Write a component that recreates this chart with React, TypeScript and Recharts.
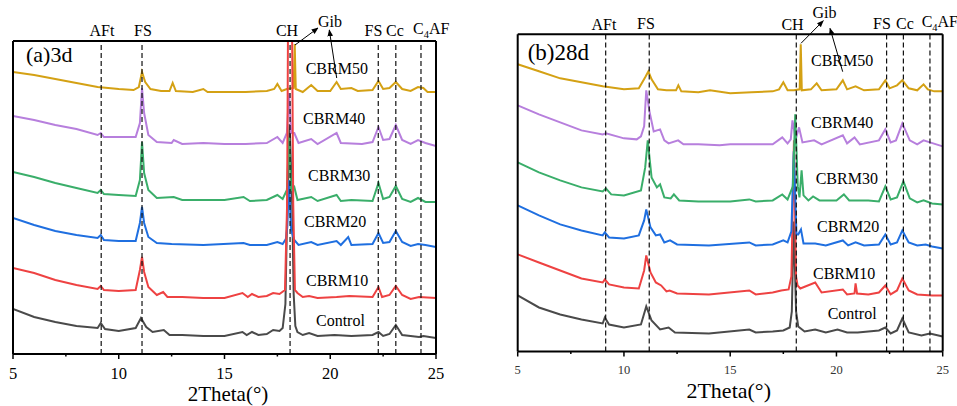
import React from 'react';
import { LineChart, Line, XAxis, YAxis, ReferenceLine } from 'recharts';

type Pt = [number, number];

// ---------- data: 2Theta (deg) vs offset intensity (a.u.) ----------
const SERIES_NAMES = ['Control', 'CBRM10', 'CBRM20', 'CBRM30', 'CBRM40', 'CBRM50'];
const X_TICKS = [5, 7.5, 10, 12.5, 15, 17.5, 20, 22.5, 25];
const X_MAJOR = [5, 10, 15, 20, 25];

const peaks3d: [string, number][] = [
  ['AFt', 9.17], ['FS', 11.1], ['CH', 18.1], ['FS', 22.27], ['Cc', 23.1], ['C4AF', 24.29],
];
const peaks28d: [string, number][] = [
  ['AFt', 9.14], ['FS', 11.19], ['CH', 18.11], ['FS', 22.36], ['Cc', 23.15], ['C4AF', 24.4],
];

const d3Control: Pt[] = [[5,45],[6,37],[7,32],[8,28],[9,26],[9.15,31],[9.35,25],[10,23],[10.8,26],[11.05,36],[11.3,27],[11.6,22],[12.13,24],[12.4,19],[13,19],[14,18],[15,18],[15.85,22],[16.05,19],[16.3,22],[16.6,19],[17,20],[17.3,24],[17.6,23],[17.75,26],[17.88,50],[17.97,150],[18.08,230],[18.2,150],[18.27,60],[18.35,28],[18.45,22],[18.7,19],[19,21],[19.4,18],[20.2,19],[21,18],[22,19],[22.28,22],[22.5,18],[22.8,20],[23.1,29],[23.4,19],[24.2,17],[24.4,18],[25,16]];
const d3CBRM10: Pt[] = [[5,86],[6,81],[7,74],[8,69],[9,65],[9.15,68],[9.3,64],[10,63],[10.8,64],[11,84],[11.1,97],[11.2,82],[11.4,67],[11.8,59],[12.1,62],[12.3,57],[13,57],[14,56],[15,56],[15.85,61],[16.1,57],[16.3,60],[16.6,57],[17,58],[17.3,61],[17.6,60],[17.86,64],[17.96,150],[18.02,400],[18.17,400],[18.25,150],[18.33,64],[18.45,61],[18.7,57],[19,58],[19.4,56],[20.3,57],[20.9,58],[22,57],[22.28,67],[22.45,57],[22.8,59],[23.1,68],[23.4,59],[23.8,55],[24.2,57],[25,56]];
const d3CBRM20: Pt[] = [[5,136],[6,129],[7,123],[8,119],[9,116],[9.15,119],[9.3,114],[10,113],[10.8,113],[11,131],[11.1,147],[11.2,131],[11.4,117],[11.8,111],[12.5,110],[14,109],[15.9,111],[16.2,109],[17,109],[17.5,112],[17.75,110],[17.9,115],[17.97,127],[18.05,174],[18.15,124],[18.3,114],[18.5,109],[19.1,112],[19.4,109],[20.3,113],[20.5,109],[20.85,117],[21,109],[22,110],[22.28,121],[22.5,111],[22.8,112],[23.1,123],[23.4,112],[23.8,108],[24.15,110],[24.5,109],[25,107]];
const d3CBRM30: Pt[] = [[5,182],[6,177],[7,171],[8,166],[9,161],[9.15,164],[9.3,160],[10,159],[10.8,158],[11,174],[11.1,212],[11.2,181],[11.4,164],[11.8,156],[12.6,157],[13,154],[14,154],[15,154],[15.9,157],[16.2,153],[17,154],[17.5,159],[17.75,155],[17.95,164],[18.05,217],[18.15,164],[18.3,167],[18.45,154],[19.1,157],[19.4,153],[20.3,159],[20.5,153],[21,154],[22,153],[22.28,171],[22.5,155],[22.8,157],[23.1,168],[23.4,155],[23.8,152],[24.15,156],[24.5,152],[25,152]];
const d3CBRM40: Pt[] = [[5,238],[6,234],[7,229],[8,225],[9,219],[9.15,221],[9.3,217],[10,217],[10.8,217],[11,231],[11.1,266],[11.2,241],[11.4,219],[11.8,212],[12.5,211],[12.6,214],[13,210],[14,211],[15,210],[16,210],[17,211],[17.5,217],[17.75,211],[17.95,221],[18.05,261],[18.15,221],[18.3,221],[18.5,211],[19.1,215],[19.4,210],[20.3,221],[20.5,211],[21.5,210],[22,212],[22.28,227],[22.5,214],[22.8,215],[23.1,229],[23.4,214],[23.8,210],[24.15,214],[24.5,211],[25,208]];
const d3CBRM50: Pt[] = [[5,282],[6,279],[7,275],[8,271],[9,267],[10,265],[10.7,264],[10.95,267],[11.1,282],[11.25,272],[11.5,265],[12,263],[12.4,263],[12.55,271],[12.7,263],[13.5,262],[14,265],[14.2,262],[15,262],[16,262],[17,263],[17.35,265],[17.5,270],[17.7,263],[17.95,265],[18.27,266],[18.32,310],[18.37,265],[18.7,262],[19.1,269],[19.4,263],[20,263],[20.3,272],[20.5,265],[21,266],[21.3,263],[22,264],[22.28,273],[22.5,265],[22.8,266],[23.1,272],[23.4,265],[23.8,263],[24.15,267],[24.4,266],[24.6,262],[25,262]];

const d28Control: Pt[] = [[5,56],[6,44],[7,37],[8,32],[9,28],[9.1,34],[9.3,27],[10,24],[10.8,27],[11.05,45],[11.3,31],[11.7,22],[12.1,24],[12.4,19],[14,18],[15.9,22],[16.2,19],[17,20],[17.5,21],[17.8,24],[17.9,40],[17.99,130],[18.1,40],[18.2,25],[18.5,20],[19,22],[19.5,19],[20.05,22],[20.5,19],[21,19],[22,21],[22.3,24],[22.55,18],[22.85,21],[23.1,33],[23.4,19],[24,16],[24.4,18],[25,15]];
const d28CBRM10: Pt[] = [[5,97],[6,89],[7,81],[8,73],[9,69],[9.1,72],[9.3,67],[10,64],[10.7,63],[10.95,81],[11.05,96],[11.25,79],[11.5,69],[11.75,66],[12,60],[12.15,61],[12.5,58],[14,57],[15.9,61],[16.2,57],[17,59],[17.4,61],[17.75,62],[17.88,75],[18,211],[18.1,75],[18.17,66],[18.3,63],[19,69],[19.3,59],[20.3,62],[20.5,57],[20.85,58],[20.9,68],[20.97,58],[21.5,57],[22,59],[22.3,66],[22.55,57],[22.85,61],[23.1,73],[23.4,61],[23.8,57],[24.5,56],[25,56]];
const d28CBRM20: Pt[] = [[5,146],[6,136],[7,127],[8,121],[9,116],[9.1,119],[9.3,114],[10,113],[10.7,116],[10.95,131],[11.05,142],[11.25,124],[11.5,116],[11.7,117],[11.9,109],[12.17,111],[12.5,107],[14,106],[15.9,109],[16.2,106],[17,107],[17.5,111],[17.7,109],[17.88,120],[17.99,200],[18.12,117],[18.2,117],[18.33,122],[18.45,108],[19,108],[19.5,106],[20.3,111],[20.55,106],[20.9,109],[21.3,106],[22,107],[22.3,117],[22.55,107],[22.85,109],[23.1,121],[23.4,109],[23.8,106],[24.2,107],[24.5,105],[25,103]];
const d28CBRM30: Pt[] = [[5,189],[6,179],[7,171],[8,164],[9,160],[9.15,163],[9.4,157],[10,156],[10.8,161],[11,184],[11.12,211],[11.3,174],[11.55,164],[11.7,167],[11.9,154],[12.2,153],[12.35,157],[12.6,151],[13.5,150],[15,150],[15.9,152],[16.2,150],[17,151],[17.45,157],[17.7,152],[17.95,165],[18.06,237],[18.18,165],[18.26,154],[18.36,181],[18.45,156],[18.68,151],[18.9,155],[19.2,151],[20,151],[20.35,157],[20.6,151],[21.5,151],[22,150],[22.3,165],[22.55,152],[22.85,154],[23.15,170],[23.45,153],[23.8,149],[24.1,151],[24.5,148],[25,147]];
const d28CBRM40: Pt[] = [[5,246],[6,237],[7,229],[8,221],[9,217],[9.15,218],[10,213],[10.6,212],[10.8,215],[10.95,225],[11.05,261],[11.2,240],[11.4,220],[11.7,222],[11.9,211],[12.1,208],[12.55,211],[12.8,207],[13.5,207],[14.5,206],[15,207],[16,207],[17,207],[17.45,214],[17.7,208],[17.85,212],[17.93,231],[18.08,212],[18.24,224],[18.4,209],[18.95,211],[19.3,207],[20.3,216],[20.5,208],[20.85,214],[21.1,207],[22,211],[22.3,222],[22.55,209],[22.8,211],[23.1,228],[23.45,211],[23.8,207],[24.1,211],[24.4,209],[25,205]];
const d28CBRM50: Pt[] = [[5,287],[6,280],[7,273],[8,269],[9,265],[10,262],[10.7,263],[11,274],[11.15,280],[11.3,272],[11.6,262],[12,261],[12.45,261],[12.56,266],[12.7,260],[13.5,259],[14.05,261],[15,258],[16,259],[17,260],[17.3,262],[17.5,269],[17.7,261],[18,261],[18.27,262],[18.32,307],[18.37,261],[18.8,262],[19.07,268],[19.3,261],[20,262],[20.3,271],[20.5,262],[20.9,265],[21.3,261],[22,262],[22.3,271],[22.5,263],[22.85,266],[23.1,271],[23.4,263],[23.8,261],[24.1,267],[24.3,262],[24.6,260],[25,260]];

const COLORS: Record<string, string> = {
  Control: '#4a4a4a',
  CBRM10: '#ee4242',
  CBRM20: '#1f6fe0',
  CBRM30: '#3aae6a',
  CBRM40: '#b77fdd',
  CBRM50: '#d4a114',
};

const FONT = '"Liberation Serif", "Times New Roman", serif';
const TICK_SIZE = 5;
const TICK_MARGIN = 3;

const toRows = (pts: Pt[]) => pts.map(([x, y]) => ({ x, y }));

function makeTick(fontSize: number, fill: string, baselineOffset: number) {
  return (props: any) => {
    const { x, y, payload } = props;
    const v = payload.value as number;
    const major = X_MAJOR.includes(v);
    const axisY = y - TICK_SIZE - TICK_MARGIN;
    return (
      <g>
        <line x1={x} x2={x} y1={axisY} y2={axisY + (major ? 5 : 2.5)} stroke="#000" strokeWidth={1.5} />
        {major && (
          <text x={x} y={axisY + baselineOffset} textAnchor="middle" fontSize={fontSize} fill={fill} fontFamily={FONT}>
            {v}
          </text>
        )}
      </g>
    );
  };
}

type PanelProps = {
  left: number;
  width: number;
  plot: { x0: number; x1: number; y0: number; y1: number };
  yMax: number;
  series: Record<string, Pt[]>;
  order: string[];
  peaks: [string, number][];
  tick: (p: any) => React.ReactElement;
};

const AXIS_H = 30;

function Panel({ left, width, plot, yMax, series, order, peaks, tick }: PanelProps) {
  const frame = { stroke: '#000', strokeWidth: 2 };
  // frame axes are 1px wide/high, so margins are reduced by 1
  const margin = {
    top: plot.y0 - 1,
    left: plot.x0 - 1,
    right: width - plot.x1 - 1,
    bottom: 406 - plot.y1 - AXIS_H,
  };
  return (
    <div style={{ position: 'absolute', left, top: 0 }}>
      <LineChart width={width} height={406} margin={margin}>
        <XAxis
          dataKey="x"
          type="number"
          domain={[5, 25]}
          allowDataOverflow
          ticks={X_TICKS}
          interval={0}
          tickLine={false}
          tickSize={TICK_SIZE}
          tickMargin={TICK_MARGIN}
          tick={tick}
          axisLine={frame}
          height={AXIS_H}
        />
        <XAxis xAxisId="top" orientation="top" type="number" domain={[5, 25]} tick={false} tickLine={false} axisLine={frame} height={1} />
        <YAxis type="number" domain={[0, yMax]} allowDataOverflow tick={false} tickLine={false} axisLine={frame} width={1} />
        <YAxis yAxisId="r" orientation="right" type="number" domain={[0, yMax]} tick={false} tickLine={false} axisLine={frame} width={1} />
        {order.map((name) => (
          <Line
            key={name}
            data={toRows(series[name])}
            dataKey="y"
            type="linear"
            stroke={COLORS[name]}
            strokeWidth={2}
            dot={false}
            activeDot={false}
            isAnimationActive={false}
          />
        ))}
        {peaks.map(([name, x], i) => (
          <ReferenceLine key={name + i} x={x} stroke="#111" strokeWidth={1.2} strokeDasharray="5 3" />
        ))}
      </LineChart>
    </div>
  );
}

const Arrow = ({ x1, y1, x2, y2 }: { x1: number; y1: number; x2: number; y2: number }) => (
  <line x1={x1} y1={y1} x2={x2} y2={y2} stroke="#000" strokeWidth={1} markerEnd="url(#arrowHead)" />
);

const C4AF = ({ x, y, size }: { x: number; y: number; size: number }) => (
  <text x={x} y={y} fontSize={size} fontFamily={FONT} fill="#000">
    C<tspan fontSize={size * 0.65} dy={size * 0.22}>4</tspan>
    <tspan dy={-size * 0.22}>AF</tspan>
  </text>
);

export default function App() {
  const s3 = { Control: d3Control, CBRM10: d3CBRM10, CBRM20: d3CBRM20, CBRM30: d3CBRM30, CBRM40: d3CBRM40, CBRM50: d3CBRM50 };
  const s28 = { Control: d28Control, CBRM10: d28CBRM10, CBRM20: d28CBRM20, CBRM30: d28CBRM30, CBRM40: d28CBRM40, CBRM50: d28CBRM50 };
  const T = { fontFamily: FONT, fill: '#000' } as const;
  const labels3 = [
    ['CBRM50', 305.7, 73.5], ['CBRM40', 303, 123.5], ['CBRM30', 308, 180.5],
    ['CBRM20', 304, 227], ['CBRM10', 306, 285.5], ['Control', 316, 326],
  ] as const;
  const labels28 = [
    ['CBRM50', 811, 65.5], ['CBRM40', 811, 128], ['CBRM30', 815.7, 183.5],
    ['CBRM20', 817, 232], ['CBRM10', 813, 278.5], ['Control', 827.7, 318.5],
  ] as const;
  return (
    <div style={{ position: 'absolute', left: 0, top: 0, width: 957, height: 406, background: '#fff', overflow: 'hidden' }}>
      <Panel
        left={0}
        width={480}
        plot={{ x0: 13, x1: 436, y0: 41, y1: 354 }}
        yMax={313}
        series={s3}
        order={['Control', 'CBRM20', 'CBRM30', 'CBRM40', 'CBRM50', 'CBRM10']}
        peaks={peaks3d}
        tick={makeTick(16.5, '#000', 24.5)}
      />
      <Panel
        left={480}
        width={477}
        plot={{ x0: 37.7, x1: 462.7, y0: 34.3, y1: 351.5 }}
        yMax={317}
        series={s28}
        order={['Control', 'CBRM10', 'CBRM20', 'CBRM40', 'CBRM30', 'CBRM50']}
        peaks={peaks28d}
        tick={makeTick(12.5, '#333', 22)}
      />
      <svg width={957} height={406} style={{ position: 'absolute', left: 0, top: 0, pointerEvents: 'none' }}>
        <defs>
          <marker id="arrowHead" viewBox="0 0 10 10" refX="9" refY="5" markerWidth="7" markerHeight="7" orient="auto">
            <path d="M0,1 L10,5 L0,9 z" fill="#000" />
          </marker>
        </defs>
        {/* panel (a) */}
        <text x={26} y={62} fontSize={22} {...T}>(a)3d</text>
        {labels3.map(([t, x, y]) => (
          <text key={'a' + t} x={x} y={y} fontSize={16} {...T}>{t}</text>
        ))}
        <text x={102} y={36} fontSize={16} textAnchor="middle" {...T}>AFt</text>
        <text x={143} y={36} fontSize={16} textAnchor="middle" {...T}>FS</text>
        <text x={287} y={35.5} fontSize={16} textAnchor="middle" {...T}>CH</text>
        <text x={330} y={26.5} fontSize={16} textAnchor="middle" {...T}>Gib</text>
        <text x={373.5} y={35.5} fontSize={16} textAnchor="middle" {...T}>FS</text>
        <text x={395} y={35.5} fontSize={16} textAnchor="middle" {...T}>Cc</text>
        <C4AF x={413} y={34} size={16} />
        <Arrow x1={295} y1={45} x2={318} y2={28} />
        <Arrow x1={336.7} y1={78} x2={329.3} y2={30} />
        <text x={228} y={401} fontSize={21} textAnchor="middle" {...T}>2Theta(°)</text>
        {/* panel (b) */}
        <text x={527.7} y={60} fontSize={23} {...T}>(b)28d</text>
        {labels28.map(([t, x, y]) => (
          <text key={'b' + t} x={x} y={y} fontSize={16} {...T}>{t}</text>
        ))}
        <text x={604} y={29.5} fontSize={16} textAnchor="middle" {...T}>AFt</text>
        <text x={646} y={29} fontSize={16} textAnchor="middle" {...T}>FS</text>
        <text x={792.5} y={30} fontSize={16} textAnchor="middle" {...T}>CH</text>
        <text x={824.5} y={17.5} fontSize={16} textAnchor="middle" {...T}>Gib</text>
        <text x={882} y={28.5} fontSize={16} textAnchor="middle" {...T}>FS</text>
        <text x={905} y={28.5} fontSize={16} textAnchor="middle" {...T}>Cc</text>
        <C4AF x={921.7} y={27} size={16} />
        <Arrow x1={801} y1={43.3} x2={823.3} y2={20.7} />
        <Arrow x1={842.7} y1={71.7} x2={830} y2={28.3} />
        <text x={728.7} y={398} fontSize={22} textAnchor="middle" {...T}>2Theta(°)</text>
      </svg>
    </div>
  );
}
